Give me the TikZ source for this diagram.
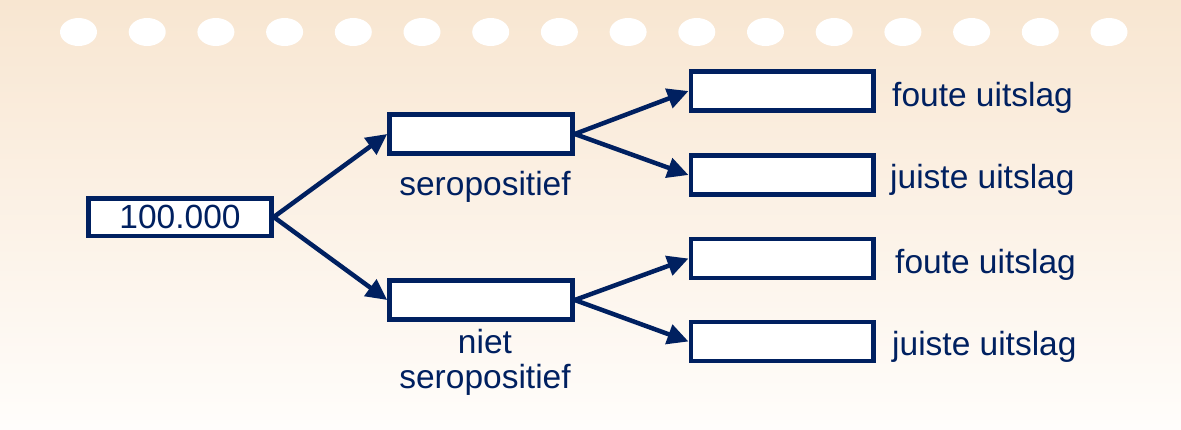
\documentclass[tikz,border=0pt]{standalone}
\usepackage{fontspec}
\setmainfont{Liberation Sans}
\usetikzlibrary{arrows.meta}
\definecolor{navy}{RGB}{0,32,96}
\definecolor{bgtop}{RGB}{248,230,209}
\definecolor{bgbot}{RGB}{255,253,251}
\begin{document}
\begin{tikzpicture}[x=1pt,y=-1pt,
  box/.style={draw=navy,fill=white,line width=4.5pt,minimum width=183pt,minimum height=39pt,inner sep=0pt,font=\fontsize{33.5}{35}\selectfont,text=navy},
  lbl/.style={font=\fontsize{33.5}{35}\selectfont,text=navy,inner sep=0pt},
  arr/.style={draw=navy,line width=4.5pt,-{Triangle[length=21pt,width=20pt]}}]
\useasboundingbox (0,0) rectangle (1181,429);
\shade[top color=bgtop,bottom color=bgbot] (0,0) rectangle (1181,429);
\foreach \i in {0,...,15}{
  \fill[white] (78.5+68.7*\i,32) ellipse [x radius=18.5pt, y radius=14pt];
}
\node[box,minimum height=37.5pt] (root) at (180,217) {100.000};
\node[box] (m1) at (481,134) {};
\node[box] (m2) at (481,300) {};
\node[box,minimum width=182.5pt] (r1) at (782,91) {};
\node[box,minimum width=182.5pt] (r2) at (782,175) {};
\node[box,minimum width=182.5pt] (r3) at (782,258.5) {};
\node[box,minimum width=182.5pt] (r4) at (782,341.5) {};
\node[lbl,anchor=base] (l1) at (485,195) {seropositief};
\node[lbl,anchor=base] (l2a) at (485,353) {niet};
\node[lbl,anchor=base] (l2b) at (485,388) {seropositief};
\node[lbl,anchor=base west] (t1) at (892,106) {foute uitslag};
\node[lbl,anchor=base west] (t2) at (890,188) {juiste uitslag};
\node[lbl,anchor=base west] (t3) at (895,273) {foute uitslag};
\node[lbl,anchor=base west] (t4) at (892,355) {juiste uitslag};
\draw[arr] (root.east) -- (m1.west);
\draw[arr] (root.east) -- (m2.west);
\draw[arr] (m1.east) -- (r1.west);
\draw[arr] (m1.east) -- (r2.west);
\draw[arr] (m2.east) -- (r3.west);
\draw[arr] (m2.east) -- (r4.west);
\end{tikzpicture}
\end{document}
